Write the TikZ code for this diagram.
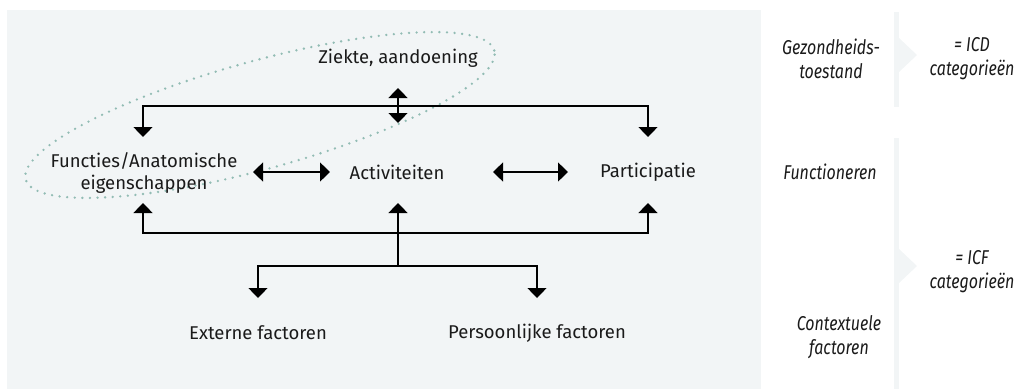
\documentclass[tikz,border=0pt]{standalone}
\usepackage{fontspec}
\setmainfont{Fira Sans}
\newfontfamily\sidefont[FakeStretch=0.8]{Fira Sans}
\usetikzlibrary{arrows.meta}
\definecolor{bgc}{HTML}{F2F5F6}
\definecolor{stripc}{HTML}{F2F5F6}
\definecolor{dotc}{HTML}{92BCB4}
\definecolor{txt}{HTML}{1A1A1A}
\tikzset{
  lbl/.style={font=\fontsize{18.5}{22}\selectfont, text=txt, align=center, inner sep=0pt},
  side/.style={font=\sidefont\fontsize{20}{24}\itshape\selectfont, text=txt, align=center, inner sep=0pt},
  conn/.style={line width=1.3pt, draw=black},
  both/.style={conn, {Triangle[width=19pt,length=10pt]}-{Triangle[width=19pt,length=10pt]}},
  endtip/.style={conn, -{Triangle[width=19pt,length=10pt]}},
  dots/.style={draw=dotc, line width=2.6pt, line cap=round, dash pattern=on 0pt off 7.6pt}
}
\begin{document}
\begin{tikzpicture}[x=1pt,y=-1pt]
\useasboundingbox (0,0) rectangle (1016,389);
% background panel
\fill[bgc] (7,10) rectangle (761,389);
% right strips with chevrons
\fill[stripc] (894,12) rectangle (899,107);
\fill[stripc] (899,38) -- (917,55) -- (899,72) -- cycle;
\fill[stripc] (894,138) rectangle (899,389);
\fill[stripc] (899,249) -- (917,266) -- (899,283) -- cycle;
% ellipse
\draw[dots, rotate around={15.4:(260,115)}] (260,115) ellipse [x radius=243pt, y radius=54pt];
% nodes
\node[lbl] (zk) at (398,58) {Ziekte, aandoening};
\node[lbl] (fa) at (144,173) {Functies/Anatomische\\eigenschappen};
\node[lbl] (ac) at (397,172) {Activiteiten};
\node[lbl] (pa) at (648,172) {Participatie};
\node[lbl] (ef) at (258,333) {Externe factoren};
\node[lbl] (pf) at (537,333) {Persoonlijke factoren};
\node[side] (gz) at (831,59) {Gezondheids-\\toestand};
\node[side] (fu) at (830,172) {Functioneren};
\node[side] (cf) at (839,337) {Contextuele\\factoren};
\node[side] (icd) at (972,59) {= ICD\\categorieën};
\node[side] (icf) at (972,272) {= ICF\\categorieën};
% coordinates
\coordinate (zkA) at (398,88);
\coordinate (zkB) at (398,123);
\coordinate (faTop) at (143,137);
\coordinate (tl) at (143,106);
\coordinate (tr) at (648,106);
\coordinate (paTop) at (648,137);
\coordinate (faBot) at (143,203);
\coordinate (bl) at (143,233);
\coordinate (br) at (648,233);
\coordinate (paBot) at (648,203);
\coordinate (acBot) at (398,203);
\coordinate (acJ) at (398,266);
\coordinate (efTop) at (258,298);
\coordinate (fl) at (258,266);
\coordinate (fr) at (537,266);
\coordinate (pfTop) at (537,298);
\coordinate (h1a) at (253,172);
\coordinate (h1b) at (330,172);
\coordinate (h2a) at (493,172);
\coordinate (h2b) at (568,172);
% connectors
\draw[both] (zkA) -- (zkB);
\draw[both] (faTop) -- (tl) -- (tr) -- (paTop);
\draw[both] (faBot) -- (bl) -- (br) -- (paBot);
\draw[endtip] (acJ) -- (acBot);
\draw[both] (efTop) -- (fl) -- (fr) -- (pfTop);
\draw[both] (h1a) -- (h1b);
\draw[both] (h2a) -- (h2b);
\end{tikzpicture}
\end{document}
